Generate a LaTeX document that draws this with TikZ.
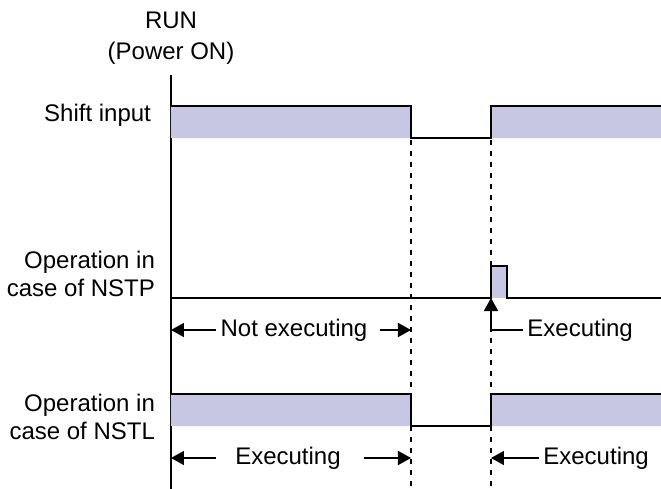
\documentclass[tikz,border=0pt]{standalone}
\usepackage{fontspec}
\setmainfont{Liberation Sans}
\usetikzlibrary{positioning,arrows.meta}
\definecolor{sigfill}{RGB}{199,199,227}

\begin{document}
\begin{tikzpicture}[x=0.5pt, y=-0.5pt,
    every node/.style={font=\fontsize{12}{14}\selectfont},
    sig/.style={line width=0.9pt},
    guide/.style={line width=0.9pt, dash pattern=on 2.5pt off 3pt},
    tip/.style={-{Triangle[length=6.5pt,width=7pt]}, line width=0.8pt}]
        \useasboundingbox (0,0) rectangle (661,489);

        % RUN
        \node[align=center, font=\fontsize{12}{15.5}\selectfont] (run) at (171,38) {RUN\\(Power ON)};
        \coordinate (axtop) at (171,75);
        \coordinate (axbot) at (171,489);
        \draw[line width=1pt] (axtop) -- (axbot);

        % Guides
        \draw[guide] (411,140) -- (411,489);
        \draw[guide] (491,140) -- (491,489);

        % Shift input
        \node[anchor=east] (shift) at (158,115) {Shift input};
        \fill[sigfill] (171,106) rectangle (411,138) (491,106) rectangle (661,138);
        \draw[sig] (171,106) -- (411,106) -- (411,138) -- (491,138) -- (491,106) -- (661,106);

        % NSTP
        \node[anchor=east, align=right] (nstp) at (162,274) {Operation in\\case of NSTP};
        \fill[sigfill] (491,266) rectangle (507,298);
        \draw[sig] (171,298) -- (491,298) -- (491,266) -- (507,266) -- (507,298) -- (661,298);
        \node[inner sep=2pt] (notex) at (294,330) {Not executing};
        \coordinate (nl) at (171,330);
        \coordinate (nr) at (411,330);
        \draw[tip] (notex.west) -- (nl);
        \draw[tip] ([xshift=4pt]notex.east) -- (nr);
        \node[anchor=west, inner sep=2pt] (expulse) at (523,330) {Executing};
        \coordinate (pk) at (491,298);
        \draw[tip] (expulse.west) -| (pk);

        % NSTL
        \node[anchor=east, align=right] (nstl) at (162,417) {Operation in\\case of NSTL};
        \fill[sigfill] (171,394) rectangle (411,426) (491,394) rectangle (661,426);
        \draw[sig] (171,394) -- (411,394) -- (411,426) -- (491,426) -- (491,394) -- (661,394);
        \node[inner sep=2pt] (exa) at (288,458) {Executing};
        \coordinate (ll) at (171,458);
        \coordinate (lr) at (411,458);
        \draw[tip] ([xshift=-7.5pt]exa.west) -- (ll);
        \draw[tip] ([xshift=9.5pt]exa.east) -- (lr);
        \node[anchor=west, inner sep=2pt] (exb) at (539,458) {Executing};
        \coordinate (rl) at (491,458);
        \draw[tip] (exb.west) -- (rl);
\end{tikzpicture}
\end{document}
